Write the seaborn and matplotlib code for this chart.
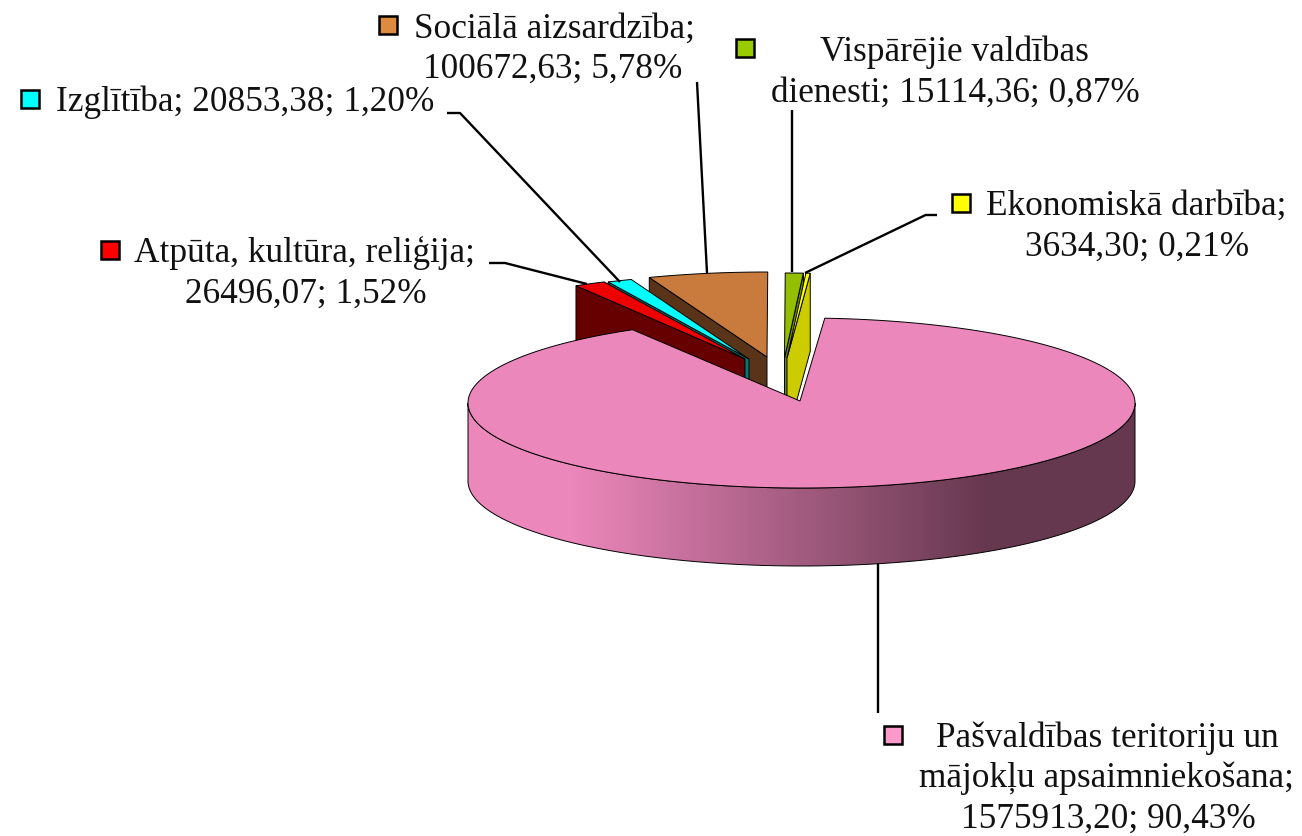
import numpy as np
import matplotlib
matplotlib.use("Agg")
import matplotlib.pyplot as plt
from matplotlib.patches import Polygon, Rectangle
import seaborn as sns

# ---- data (clockwise order of the slices) ----
categories = ["Pašvaldības teritoriju un mājokļu apsaimniekošana",
              "Atpūta, kultūra, reliģija", "Izglītība", "Sociālā aizsardzība",
              "Vispārējie valdības dienesti", "Ekonomiskā darbība"]
values = [1575913.20, 26496.07, 20853.38, 100672.63, 15114.36, 3634.30]

# ---- style ----
top_colors = ["#EC87BB", "#EE0000", "#00FFFF", "#C87B3C", "#94BE00", "#FFFF00"]
wall_colors = ["#66384F", "#660000", "#007B7B", "#5A3419", "#6A8800", "#CCCC00"]
swatch_colors = ["#FF99CC", "#FF0000", "#00FFFF", "#DD8B3F", "#99CC00", "#FFFF00"]
apexes = [(801.5, 403), (745, 359), (749, 359), (767, 357), (784.5, 358), (787, 358)]
RX, RY, DEPTH = 333.5, 85, 78
START = 86.0
FS = 25.4
LW = 0.7

sns.set_theme(style="white")
plt.rcParams["font.family"] = ["Liberation Serif", "DejaVu Serif"]

fig = plt.figure(figsize=(13.02, 8.36), dpi=100, facecolor="white")
ax = fig.add_axes([0, 0, 1, 1])
ax.set_xlim(0, 1302)
ax.set_ylim(836, 0)
ax.axis("off")

# slice angles: the large slice runs clockwise from START, the rest follow
total = sum(values)
spans = [360 * v / total for v in values]
ends = START - np.cumsum(spans)
starts = np.r_[START, ends[:-1]]
starts_up, ends_up = starts + 360, ends + 360   # small slices sit just above 86 deg


def rim(cx, cy, a0, a1, n=240):
    t = np.radians(np.linspace(a0, a1, n))
    return cx + RX * np.cos(t), cy - RY * np.sin(t)


def wall(i, angle):
    cx, cy = apexes[i]
    x, y = rim(cx, cy, angle, angle, 1)
    pts = [(cx, cy), (x[0], y[0]), (x[0], y[0] + DEPTH), (cx, cy + DEPTH)]
    ax.add_patch(Polygon(pts, closed=True, fc=wall_colors[i], ec="black", lw=LW))


def top(i):
    cx, cy = apexes[i]
    x, y = rim(cx, cy, starts[i], ends[i])
    pts = np.column_stack([np.r_[cx, x], np.r_[cy, y]])
    ax.add_patch(Polygon(pts, closed=True, fc=top_colors[i], ec="black", lw=LW))


# exploded slices, back to front
wall(3, starts[3]); top(3)
wall(2, starts[2]); top(2)
wall(1, starts[1]); top(1)
wall(4, ends[4]); top(4)
wall(5, ends[5]); top(5)

# large slice: side with a horizontal gradient, then its top
cx, cy = apexes[0]
bx, by = rim(cx, cy, 180, 360)
side = Polygon(np.column_stack([np.r_[bx, bx[::-1]], np.r_[by, by[::-1] + DEPTH]]),
               closed=True, fc="none", ec="black", lw=LW, zorder=3)
ax.add_patch(side)
shade = sns.blend_palette([top_colors[0], wall_colors[0]], n_colors=256)
ramp = np.clip((np.arange(468, 1136) - 570) / (985 - 570), 0, 1)
grad = np.array([shade[int(r * 255)] for r in ramp])[None, :, :]
im = ax.imshow(grad, extent=(468, 1136, cy + RY + DEPTH, cy), aspect="auto", zorder=2.5)
im.set_clip_path(side)
ax.set_xlim(0, 1302)
ax.set_ylim(836, 0)

x0, y0 = rim(cx, cy, starts[0], ends[0], 600)
ax.add_patch(Polygon(np.column_stack([np.r_[800, x0], np.r_[401, y0]]), closed=True,
                     fc=top_colors[0], ec="black", lw=LW, zorder=4))

# leader lines
leaders = [
    ([878, 878], [563, 713]),
    ([937, 925.6, 805], [215, 215, 273]),
    ([792, 792], [110, 272]),
    ([697, 707], [82, 273]),
    ([447, 460, 620], [113, 113, 282]),
    ([489, 505, 587], [263, 263, 284]),
]
for lx, ly in leaders:
    ax.plot(lx, ly, color="black", lw=1.7, solid_capstyle="butt", zorder=5)


# labels
def num(v):
    return f"{v:.2f}".replace(".", ",")


def pct(v):
    return f"{100 * v / total:.2f}".replace(".", ",") + "%"


def tail(v):
    return f"{num(v)}; {pct(v)}"


label_lines = [
    [("Pašvaldības teritoriju un", 1107, 747), ("mājokļu apsaimniekošana;", 1106.5, 787),
     (tail(values[0]), 1108, 828)],
    [("Atpūta, kultūra, reliģija;", 305, 262), (tail(values[1]), 306, 302.7)],
    [("Izglītība; " + tail(values[2]), 245, 110.6)],
    [("Sociālā aizsardzība;", 554, 38), (tail(values[3]), 552.5, 78)],
    [("Vispārējie valdības", 954, 61), ("dienesti; " + tail(values[4]), 955.5, 102)],
    [("Ekonomiskā darbība;", 1136, 215), (tail(values[5]), 1137.5, 255.7)],
]
for lines in label_lines:
    for s, x, y in lines:
        ax.text(x, y, s, ha="center", va="baseline", fontsize=FS, color="#111111", zorder=6)

# swatches
swatch_xy = [(883, 725), (100, 240), (20, 89), (378, 15), (735, 38), (951, 193)]
for (sx, sy), c in zip(swatch_xy, swatch_colors):
    ax.add_patch(Rectangle((sx + 1, sy + 1), 18, 18, fc=c, ec="black", lw=1.8, zorder=6))

fig.savefig("out.png", dpi=100, facecolor="white")
